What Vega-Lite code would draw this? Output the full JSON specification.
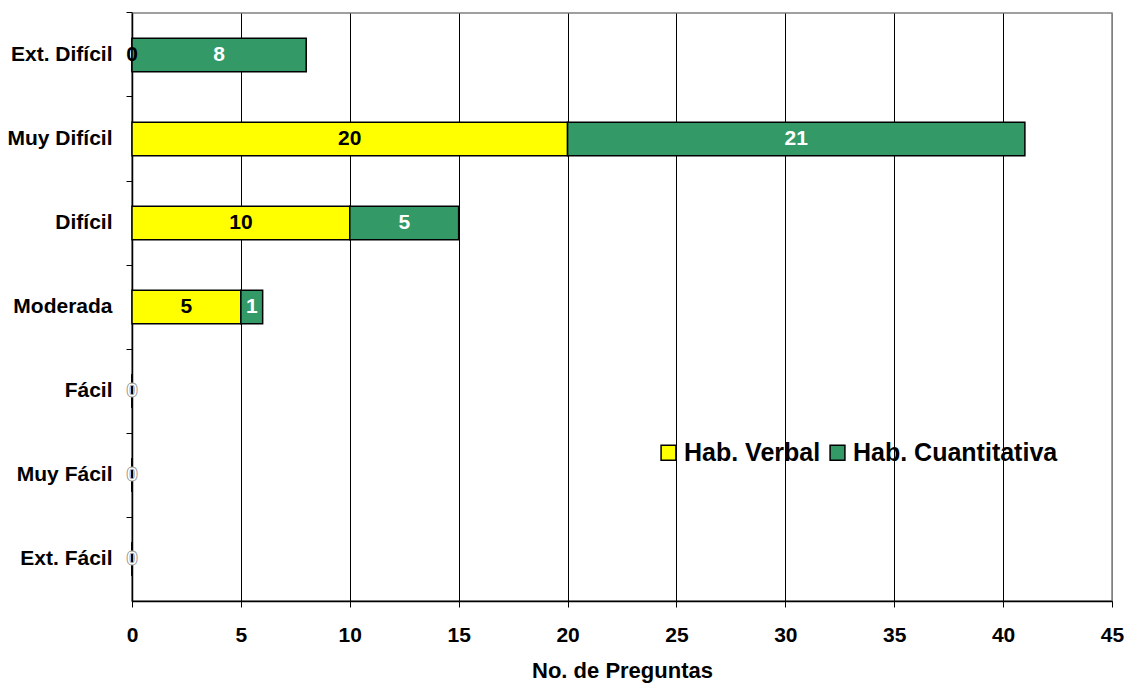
{
  "$schema": "https://vega.github.io/schema/vega-lite/v6.json",
  "width": 980,
  "height": 588,
  "autosize": {"type": "none"},
  "padding": {"left": 132, "top": 13, "right": 14, "bottom": 83},
  "config": {
    "view": {"stroke": "#808080", "strokeWidth": 1.5},
    "font": "Liberation Sans"
  },
  "data": {
    "values": [
      {"categoria": "Ext. Difícil", "serie": "Hab. Verbal", "orden": 1, "valor": 0},
      {"categoria": "Muy Difícil", "serie": "Hab. Verbal", "orden": 1, "valor": 20},
      {"categoria": "Difícil", "serie": "Hab. Verbal", "orden": 1, "valor": 10},
      {"categoria": "Moderada", "serie": "Hab. Verbal", "orden": 1, "valor": 5},
      {"categoria": "Fácil", "serie": "Hab. Verbal", "orden": 1, "valor": 0},
      {"categoria": "Muy Fácil", "serie": "Hab. Verbal", "orden": 1, "valor": 0},
      {"categoria": "Ext. Fácil", "serie": "Hab. Verbal", "orden": 1, "valor": 0},
      {"categoria": "Ext. Difícil", "serie": "Hab. Cuantitativa", "orden": 2, "valor": 8},
      {"categoria": "Muy Difícil", "serie": "Hab. Cuantitativa", "orden": 2, "valor": 21},
      {"categoria": "Difícil", "serie": "Hab. Cuantitativa", "orden": 2, "valor": 5},
      {"categoria": "Moderada", "serie": "Hab. Cuantitativa", "orden": 2, "valor": 1},
      {"categoria": "Fácil", "serie": "Hab. Cuantitativa", "orden": 2, "valor": 0},
      {"categoria": "Muy Fácil", "serie": "Hab. Cuantitativa", "orden": 2, "valor": 0},
      {"categoria": "Ext. Fácil", "serie": "Hab. Cuantitativa", "orden": 2, "valor": 0}
    ]
  },
  "transform": [
    {"stack": "valor", "groupby": ["categoria"], "sort": [{"field": "orden", "order": "ascending"}], "as": ["x0", "x1"]},
    {"calculate": "(datum.x0 + datum.x1) / 2", "as": "xm"}
  ],
  "encoding": {
    "y": {
      "field": "categoria",
      "type": "nominal",
      "sort": ["Ext. Difícil", "Muy Difícil", "Difícil", "Moderada", "Fácil", "Muy Fácil", "Ext. Fácil"],
      "scale": {"paddingInner": 0.6, "paddingOuter": 0.3},
      "axis": {
        "title": null,
        "bandPosition": -0.75,
        "labelFontSize": 21,
        "labelFontWeight": "bold",
        "labelColor": "black",
        "labelPadding": 14,
        "tickSize": 6,
        "tickColor": "black",
        "domainColor": "black",
        "domainWidth": 1.5,
        "grid": false
      }
    }
  },
  "layer": [
    {
      "mark": {"type": "bar", "stroke": "black", "strokeWidth": 1.5},
      "encoding": {
        "x": {
          "field": "x0",
          "type": "quantitative",
          "scale": {"domain": [0, 45], "nice": false},
          "axis": {
            "title": "No. de Preguntas",
            "values": [0, 5, 10, 15, 20, 25, 30, 35, 40, 45],
            "grid": true,
            "gridColor": {"condition": {"test": "datum.value == 45", "value": "#808080"}, "value": "black"},
            "gridOpacity": 1,
            "gridWidth": 1,
            "labelFlush": false,
            "labelFontSize": 21,
            "labelFontWeight": "bold",
            "labelColor": "black",
            "labelPadding": 17,
            "tickSize": 6,
            "tickColor": "black",
            "domainColor": "black",
            "domainWidth": 1.5,
            "titleFontSize": 22,
            "titleFontWeight": "bold",
            "titleColor": "black",
            "titlePadding": 15
          }
        },
        "x2": {"field": "x1"},
        "color": {
          "field": "serie",
          "type": "nominal",
          "scale": {"domain": ["Hab. Verbal", "Hab. Cuantitativa"], "range": ["#FFFF00", "#339966"]},
          "legend": {
            "title": null,
            "orient": "none",
            "legendX": 524,
            "legendY": 427,
            "direction": "horizontal",
            "symbolType": "square",
            "symbolSize": 220,
            "symbolStrokeColor": "black",
            "symbolStrokeWidth": 1.5,
            "symbolOpacity": 1,
            "labelFontSize": 25,
            "labelFontWeight": "bold",
            "labelColor": "black",
            "labelOffset": 3,
            "columnPadding": 4,
            "labelLimit": 400
          }
        }
      }
    },
    {
      "mark": {"type": "text", "fontSize": 21, "fontWeight": "bold", "align": "center", "baseline": "middle", "strokeWidth": 0.8},
      "encoding": {
        "x": {"field": "xm", "type": "quantitative"},
        "text": {"field": "valor", "type": "quantitative"},
        "color": {"condition": {"test": "datum.serie == 'Hab. Verbal'", "value": "black"}, "value": "white"},
        "stroke": {"condition": {"test": "datum.valor == 0 && datum.serie == 'Hab. Cuantitativa'", "value": "#a0a0a0"}, "value": "transparent"}
      }
    }
  ]
}
